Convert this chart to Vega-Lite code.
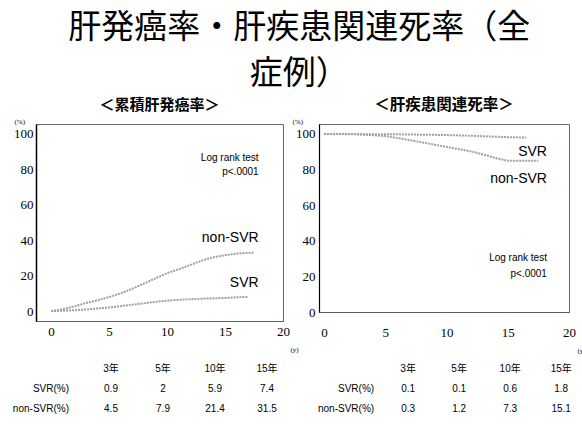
{
  "$schema": "https://vega.github.io/schema/vega-lite/v6.json",
  "background": "white",
  "padding": {"left": 12, "top": 12, "right": 4, "bottom": 4},
  "title": {
    "text": ["肝発癌率・肝疾患関連死率（全", "症例）"],
    "font": "Noto Sans CJK JP",
    "fontSize": 33,
    "fontWeight": "normal",
    "lineHeight": 46,
    "color": "black",
    "anchor": "middle",
    "offset": 6
  },
  "config": {
    "view": {"stroke": "#666", "strokeWidth": 1},
    "axis": {"grid": false, "ticks": false, "labelColor": "black", "titleColor": "black", "labelOverlap": false}
  },
  "datasets": {
    "cancer": [
      {"group": "non-SVR", "year": 0, "rate": 0},
      {"group": "non-SVR", "year": 1, "rate": 1},
      {"group": "non-SVR", "year": 2, "rate": 2.6},
      {"group": "non-SVR", "year": 3, "rate": 4.5},
      {"group": "non-SVR", "year": 4, "rate": 6.1},
      {"group": "non-SVR", "year": 5, "rate": 7.9},
      {"group": "non-SVR", "year": 6, "rate": 10},
      {"group": "non-SVR", "year": 7, "rate": 12.6},
      {"group": "non-SVR", "year": 8, "rate": 15.5},
      {"group": "non-SVR", "year": 9, "rate": 18.5},
      {"group": "non-SVR", "year": 10, "rate": 21.4},
      {"group": "non-SVR", "year": 11, "rate": 23.6},
      {"group": "non-SVR", "year": 12, "rate": 26},
      {"group": "non-SVR", "year": 13, "rate": 28.5},
      {"group": "non-SVR", "year": 14, "rate": 30.4},
      {"group": "non-SVR", "year": 15, "rate": 31.5},
      {"group": "non-SVR", "year": 16, "rate": 32.5},
      {"group": "non-SVR", "year": 17.5, "rate": 33},
      {"group": "SVR", "year": 0, "rate": 0},
      {"group": "SVR", "year": 1, "rate": 0.2},
      {"group": "SVR", "year": 2, "rate": 0.5},
      {"group": "SVR", "year": 3, "rate": 0.9},
      {"group": "SVR", "year": 4, "rate": 1.5},
      {"group": "SVR", "year": 5, "rate": 2},
      {"group": "SVR", "year": 6, "rate": 2.8},
      {"group": "SVR", "year": 7, "rate": 3.6},
      {"group": "SVR", "year": 8, "rate": 4.4},
      {"group": "SVR", "year": 9, "rate": 5.2},
      {"group": "SVR", "year": 10, "rate": 5.9},
      {"group": "SVR", "year": 11, "rate": 6.3},
      {"group": "SVR", "year": 12, "rate": 6.7},
      {"group": "SVR", "year": 13, "rate": 7},
      {"group": "SVR", "year": 14, "rate": 7.2},
      {"group": "SVR", "year": 15, "rate": 7.4},
      {"group": "SVR", "year": 16, "rate": 7.8},
      {"group": "SVR", "year": 17, "rate": 8}
    ],
    "death": [
      {"group": "SVR", "year": 0, "rate": 100},
      {"group": "SVR", "year": 3, "rate": 99.9},
      {"group": "SVR", "year": 5, "rate": 99.9},
      {"group": "SVR", "year": 7, "rate": 99.7},
      {"group": "SVR", "year": 10, "rate": 99.4},
      {"group": "SVR", "year": 12, "rate": 99},
      {"group": "SVR", "year": 15, "rate": 98.2},
      {"group": "SVR", "year": 16.5, "rate": 98},
      {"group": "non-SVR", "year": 0, "rate": 100},
      {"group": "non-SVR", "year": 1, "rate": 100},
      {"group": "non-SVR", "year": 2, "rate": 99.9},
      {"group": "non-SVR", "year": 3, "rate": 99.7},
      {"group": "non-SVR", "year": 4, "rate": 99.3},
      {"group": "non-SVR", "year": 5, "rate": 98.8},
      {"group": "non-SVR", "year": 6, "rate": 97.8},
      {"group": "non-SVR", "year": 7, "rate": 96.5},
      {"group": "non-SVR", "year": 8, "rate": 95.3},
      {"group": "non-SVR", "year": 9, "rate": 94},
      {"group": "non-SVR", "year": 10, "rate": 92.7},
      {"group": "non-SVR", "year": 11, "rate": 91.5},
      {"group": "non-SVR", "year": 12, "rate": 90.2},
      {"group": "non-SVR", "year": 13, "rate": 88.5},
      {"group": "non-SVR", "year": 14, "rate": 86.5},
      {"group": "non-SVR", "year": 15, "rate": 84.9},
      {"group": "non-SVR", "year": 17.5, "rate": 84.9}
    ],
    "notes1": [
      {"kind": "group", "label": "non-SVR", "year": 17.9, "rate": 41.2},
      {"kind": "group", "label": "SVR", "year": 17.9, "rate": 15.8},
      {"kind": "test", "label": "Log rank test", "year": 17.9, "rate": 86.4},
      {"kind": "test", "label": "p<.0001", "year": 17.9, "rate": 78.5}
    ],
    "notes2": [
      {"kind": "group", "label": "SVR", "year": 18.2, "rate": 89.9},
      {"kind": "group", "label": "non-SVR", "year": 18.2, "rate": 74.7},
      {"kind": "test", "label": "Log rank test", "year": 18.2, "rate": 30.3},
      {"kind": "test", "label": "p<.0001", "year": 18.2, "rate": 21.3}
    ],
    "tbl1": [
      {"row": "header", "col": "3年", "text": "3年"},
      {"row": "header", "col": "5年", "text": "5年"},
      {"row": "header", "col": "10年", "text": "10年"},
      {"row": "header", "col": "15年", "text": "15年"},
      {"row": "SVR", "col": "label", "text": "SVR(%)"},
      {"row": "SVR", "col": "3年", "text": "0.9"},
      {"row": "SVR", "col": "5年", "text": "2"},
      {"row": "SVR", "col": "10年", "text": "5.9"},
      {"row": "SVR", "col": "15年", "text": "7.4"},
      {"row": "non-SVR", "col": "label", "text": "non-SVR(%)"},
      {"row": "non-SVR", "col": "3年", "text": "4.5"},
      {"row": "non-SVR", "col": "5年", "text": "7.9"},
      {"row": "non-SVR", "col": "10年", "text": "21.4"},
      {"row": "non-SVR", "col": "15年", "text": "31.5"}
    ],
    "tbl2": [
      {"row": "header", "col": "3年", "text": "3年"},
      {"row": "header", "col": "5年", "text": "5年"},
      {"row": "header", "col": "10年", "text": "10年"},
      {"row": "header", "col": "15年", "text": "15年"},
      {"row": "SVR", "col": "label", "text": "SVR(%)"},
      {"row": "SVR", "col": "3年", "text": "0.1"},
      {"row": "SVR", "col": "5年", "text": "0.1"},
      {"row": "SVR", "col": "10年", "text": "0.6"},
      {"row": "SVR", "col": "15年", "text": "1.8"},
      {"row": "non-SVR", "col": "label", "text": "non-SVR(%)"},
      {"row": "non-SVR", "col": "3年", "text": "0.3"},
      {"row": "non-SVR", "col": "5年", "text": "1.2"},
      {"row": "non-SVR", "col": "10年", "text": "7.3"},
      {"row": "non-SVR", "col": "15年", "text": "15.1"}
    ]
  },
  "spacing": 5,
  "vconcat": [
    {
      "bounds": "flush",
      "spacing": 36,
      "hconcat": [
        {
          "width": 247,
          "height": 197,
          "title": {"text": "＜累積肝発癌率＞", "font": "Noto Sans CJK JP", "fontSize": 15, "fontWeight": "bold", "offset": 4, "color": "black"},
          "encoding": {
            "x": {"field": "year", "type": "quantitative",
              "scale": {"domain": [-1.3, 20], "nice": false, "zero": false},
              "axis": {"values": [0, 5, 10, 15, 20], "labelFont": "Liberation Serif", "labelFontSize": 13, "labelPadding": 4, "labelFlush": false, "labelOverlap": false, "domainColor": "#555", "domainDash": [2, 2],
                "title": "(y)", "titleFont": "Liberation Serif", "titleFontSize": 7, "titleFontWeight": "normal", "titleX": 258, "titleY": 24}},
            "y": {"field": "rate", "type": "quantitative",
              "scale": {"domain": [-5.6, 105.6], "nice": false, "zero": false},
              "axis": {"values": [0, 20, 40, 60, 80, 100], "labelFont": "Liberation Serif", "labelFontSize": 13, "labelPadding": 3, "labelOverlap": false, "domainColor": "black", "domainWidth": 1.5,
                "title": "(%)", "titleAngle": 0, "titleAlign": "left", "titleBaseline": "bottom", "titleFont": "Liberation Serif", "titleFontSize": 7, "titleFontWeight": "normal", "titleX": -22, "titleY": 0}}
          },
          "layer": [
            {
              "data": {"name": "cancer"},
              "mark": {"type": "line", "color": "#a0a0a0", "strokeWidth": 2, "strokeDash": [2, 1]},
              "encoding": {"detail": {"field": "group"}}
            },
            {
              "data": {"name": "notes1"},
              "transform": [{"filter": "datum.kind === 'group'"}],
              "mark": {"type": "text", "align": "right", "baseline": "middle", "font": "Liberation Sans", "fontSize": 14},
              "encoding": {"text": {"field": "label"}}
            },
            {
              "data": {"name": "notes1"},
              "transform": [{"filter": "datum.kind === 'test'"}],
              "mark": {"type": "text", "align": "right", "baseline": "middle", "font": "Liberation Sans", "fontSize": 10},
              "encoding": {"text": {"field": "label"}}
            }
          ]
        },
        {
          "width": 250,
          "height": 188,
          "title": {"text": "＜肝疾患関連死率＞", "font": "Noto Sans CJK JP", "fontSize": 15.5, "fontWeight": "bold", "offset": 4, "color": "black"},
          "encoding": {
            "x": {"field": "year", "type": "quantitative",
              "scale": {"domain": [-0.4, 20], "nice": false, "zero": false},
              "axis": {"values": [0, 5, 10, 15, 20], "labelFont": "Liberation Serif", "labelFontSize": 13, "labelPadding": 14, "labelFlush": false, "labelOverlap": false, "domainColor": "#555", "domainDash": [2, 2],
                "title": "(y)", "titleFont": "Liberation Serif", "titleFontSize": 7, "titleFontWeight": "normal", "titleX": 262, "titleY": 34}},
            "y": {"field": "rate", "type": "quantitative",
              "scale": {"domain": [0, 105.6], "nice": false, "zero": false},
              "axis": {"values": [0, 20, 40, 60, 80, 100], "labelFont": "Liberation Serif", "labelFontSize": 13, "labelPadding": 4, "labelOverlap": false, "domainColor": "black", "domainWidth": 1.2,
                "title": "(%)", "titleAngle": 0, "titleAlign": "left", "titleBaseline": "bottom", "titleFont": "Liberation Serif", "titleFontSize": 7, "titleFontWeight": "normal", "titleX": -27, "titleY": 0}}
          },
          "layer": [
            {
              "data": {"name": "death"},
              "mark": {"type": "line", "color": "#a0a0a0", "strokeWidth": 2, "strokeDash": [2, 1]},
              "encoding": {"detail": {"field": "group"}}
            },
            {
              "data": {"name": "notes2"},
              "transform": [{"filter": "datum.kind === 'group'"}],
              "mark": {"type": "text", "align": "right", "baseline": "middle", "font": "Liberation Sans", "fontSize": 14},
              "encoding": {"text": {"field": "label"}}
            },
            {
              "data": {"name": "notes2"},
              "transform": [{"filter": "datum.kind === 'test'"}],
              "mark": {"type": "text", "align": "right", "baseline": "middle", "font": "Liberation Sans", "fontSize": 10},
              "encoding": {"text": {"field": "label"}}
            }
          ]
        }
      ]
    },
    {
      "bounds": "flush",
      "spacing": 36,
      "hconcat": [
        {
          "width": 247,
          "height": 60,
          "view": {"stroke": null},
          "data": {"name": "tbl1"},
          "encoding": {
            "x": {"field": "col", "type": "nominal", "scale": {"type": "point", "domain": ["label", "3年", "5年", "10年", "15年"], "padding": 0.375, "align": 0.59}, "axis": null},
            "y": {"field": "row", "type": "nominal", "scale": {"type": "point", "domain": ["header", "SVR", "non-SVR"], "padding": 0.5}, "axis": null},
            "text": {"field": "text"}
          },
          "layer": [
            {
              "transform": [{"filter": "datum.col !== 'label'"}],
              "mark": {"type": "text", "font": "Liberation Sans, Noto Sans CJK JP", "fontSize": 10, "baseline": "middle"}
            },
            {
              "transform": [{"filter": "datum.col === 'label'"}],
              "mark": {"type": "text", "font": "Liberation Sans", "fontSize": 10, "baseline": "middle", "align": "right", "dx": 10}
            }
          ]
        },
        {
          "width": 250,
          "height": 60,
          "view": {"stroke": null},
          "data": {"name": "tbl2"},
          "encoding": {
            "x": {"field": "col", "type": "nominal", "scale": {"type": "point", "domain": ["label", "3年", "5年", "10年", "15年"], "padding": 0.45, "align": 0.83}, "axis": null},
            "y": {"field": "row", "type": "nominal", "scale": {"type": "point", "domain": ["header", "SVR", "non-SVR"], "padding": 0.5}, "axis": null},
            "text": {"field": "text"}
          },
          "layer": [
            {
              "transform": [{"filter": "datum.col !== 'label'"}],
              "mark": {"type": "text", "font": "Liberation Sans, Noto Sans CJK JP", "fontSize": 10, "baseline": "middle"}
            },
            {
              "transform": [{"filter": "datum.col === 'label'"}],
              "mark": {"type": "text", "font": "Liberation Sans", "fontSize": 10, "baseline": "middle", "align": "right", "dx": 17}
            }
          ]
        }
      ]
    }
  ]
}
